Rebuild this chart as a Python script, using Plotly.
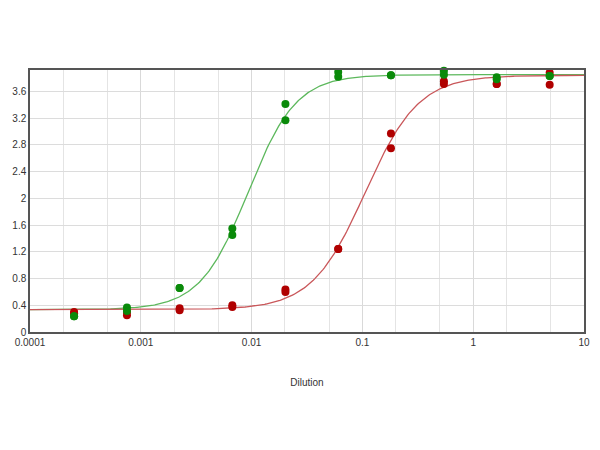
import numpy as np
import plotly.graph_objects as go

# Dilution levels (3-fold series)
dilutions = [0.00025, 0.00075, 0.00224, 0.0067, 0.0202, 0.0605, 0.181, 0.544, 1.63, 4.9]

# Replicate readings (two per dilution)
green_rep1 = [0.235, 0.366, 0.66, 1.55, 3.41, 3.89, 3.84, 3.91, 3.81, 3.83]
green_rep2 = [0.235, 0.315, 0.66, 1.45, 3.17, 3.82, 3.84, 3.85, 3.78, 3.83]
red_rep1 = [0.30, 0.30, 0.355, 0.40, 0.635, 1.24, 2.97, 3.75, 3.71, 3.88]
red_rep2 = [0.28, 0.25, 0.325, 0.375, 0.60, 1.24, 2.75, 3.71, 3.71, 3.70]

# 4-parameter logistic fit parameters: bottom, top, EC50, Hill slope
green_fit = dict(bottom=0.335, top=3.85, ec50=0.0093, hill=2.0)
red_fit = dict(bottom=0.335, top=3.84, ec50=0.106, hill=1.8)

y_ticks = [0, 0.4, 0.8, 1.2, 1.6, 2, 2.4, 2.8, 3.2, 3.6]

GREEN_PT = "#0a8a0a"
RED_PT = "#b00000"
GREEN_LN = "#5cb85c"
RED_LN = "#c9575a"


def curve(p, xs):
    return p["bottom"] + (p["top"] - p["bottom"]) / (1 + (p["ec50"] / xs) ** p["hill"])


xs = np.logspace(-4, 1, 400)

fig = go.Figure()
fig.add_trace(go.Scatter(x=xs, y=curve(green_fit, xs), mode="lines",
                         line=dict(color=GREEN_LN, width=1.3), hoverinfo="skip"))
fig.add_trace(go.Scatter(x=xs, y=curve(red_fit, xs), mode="lines",
                         line=dict(color=RED_LN, width=1.3), hoverinfo="skip"))
for reps, col in ((red_rep1, RED_PT), (red_rep2, RED_PT), (green_rep1, GREEN_PT), (green_rep2, GREEN_PT)):
    fig.add_trace(go.Scatter(x=dilutions, y=reps, mode="markers", cliponaxis=False,
                             marker=dict(color=col, size=8, line=dict(width=0))))

fig.update_layout(
    width=600, height=450,
    margin=dict(l=22, r=24, t=62, b=126, autoexpand=False),
    paper_bgcolor="white", plot_bgcolor="white",
    showlegend=False,
    font=dict(family="Liberation Sans, Arial, sans-serif", size=10, color="#333333"),
)
fig.update_xaxes(
    type="log", range=[-4, 1], automargin=False,
    tickvals=[0.0001, 0.001, 0.01, 0.1, 1, 10],
    ticktext=["0.0001", "0.001", "0.01", "0.1", "1", "10"],
    showgrid=True, gridcolor="#d9d9d9", gridwidth=1,
    minor=dict(showgrid=True, gridcolor="#e4e4e4", gridwidth=1, ticks=""),
    showline=True, linecolor="#555555", linewidth=1.5, mirror=True,
    ticks="", zeroline=False,
    title=dict(text="Dilution", standoff=32, font=dict(size=10, color="#333333")),
)
fig.update_yaxes(
    range=[0, 3.92], automargin=False,
    tickvals=y_ticks, ticktext=[str(v) for v in y_ticks],
    showgrid=True, gridcolor="#dcdcdc", gridwidth=1,
    showline=True, linecolor="#555555", linewidth=1.5, mirror=True,
    ticks="", zeroline=False,
)

fig.write_html("out.html")
